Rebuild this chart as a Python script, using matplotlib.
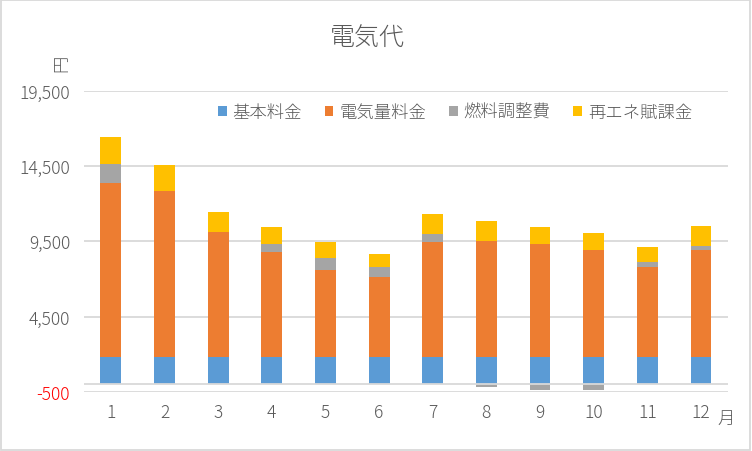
import matplotlib
matplotlib.use("Agg")
import matplotlib.pyplot as plt
from matplotlib.patches import Rectangle
import numpy as np

plt.rcParams['font.family'] = ['Noto Sans CJK JP', 'DejaVu Sans']
plt.rcParams['font.weight'] = 'light'

months = ['1', '2', '3', '4', '5', '6', '7', '8', '9', '10', '11', '12']
series_names = ['基本料金', '電気量料金', '燃料調整費', '再エネ賦課金']
base = [1850] * 12
energy = [11500, 10960, 8300, 6960, 5760, 5300, 7580, 7700, 7500, 7100, 5980, 7100]
fuel = [1270, 0, 0, 530, 800, 670, 580, -150, -390, -390, 270, 270]
renew = [1800, 1730, 1330, 1130, 1070, 870, 1290, 1270, 1130, 1130, 1050, 1330]
yticks = [-500, 4500, 9500, 14500, 19500]
colors = ['#5b9bd5', '#ed7d31', '#a5a5a5', '#ffc000']

fig = plt.figure(figsize=(7.52, 4.52), dpi=100)
ax = fig.add_axes([84/752, 1-393/452, (727.8-84)/752, (393-91.7)/452])

x = np.arange(1, 13)
w = 0.39
b = np.array(base, float)
e = np.array(energy, float)
f = np.array(fuel, float)
r = np.array(renew, float)
fpos = np.where(f > 0, f, 0)
fneg = np.where(f < 0, f, 0)

ax.bar(x, b, w, color=colors[0], zorder=2, label=series_names[0])
ax.bar(x, e, w, bottom=b, color=colors[1], zorder=2, label=series_names[1])
ax.bar(x, fpos, w, bottom=b+e, color=colors[2], zorder=2, label=series_names[2])
ax.bar(x, fneg, w, bottom=0, color=colors[2], zorder=2)
ax.bar(x, r, w, bottom=b+e+fpos, color=colors[3], zorder=2, label=series_names[3])

ax.set_xlim(0.5, 12.5)
ax.set_ylim(-500, 19500)
ax.set_yticks(yticks)
ax.set_yticklabels([f'{v:,}' for v in yticks])
ax.set_xticks(x)
ax.set_xticklabels(months)
for s in ax.spines.values():
    s.set_visible(False)
ax.tick_params(length=0, labelsize=12.5, colors='#595959', pad=8)
ax.tick_params(axis='y', pad=10)
ax.get_yticklabels()[0].set_color('red')
for v in yticks:
    ax.axhline(v, color='#d9d9d9', lw=1.3, zorder=1)
ax.axhline(0, color='#d9d9d9', lw=1.3, zorder=3)

leg = fig.legend(loc='center', bbox_to_anchor=(455/752, 1-113/452), ncol=4,
                 frameon=False, fontsize=12.5, handlelength=0.5, handleheight=0.5,
                 handletextpad=0.35, columnspacing=1.3, labelcolor='#595959')

fig.text(367/752, 1-39/452, '電気代', ha='center', va='center', fontsize=18, color='#595959')
fig.text(61/752, 1-63/452, '円', ha='center', va='center', fontsize=12.5, color='#595959', rotation=90)
fig.text(726/752, 1-419/452, '月', ha='center', va='center', fontsize=12.5, color='#595959')

fig.patches.append(Rectangle((0.5/752, 1.5/452), 749/752, 449.5/452, transform=fig.transFigure,
                             fill=False, edgecolor='#d9d9d9', lw=1.3))

fig.savefig('out.png', dpi=100)
